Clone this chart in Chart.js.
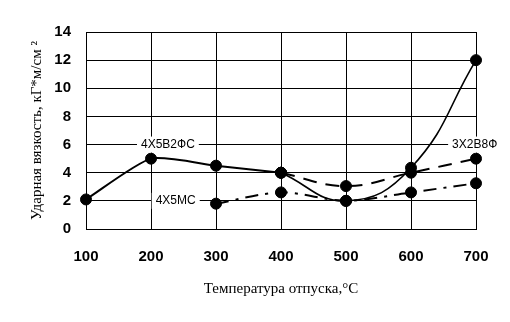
<!DOCTYPE html>
<html>
<head>
<meta charset="utf-8">
<script src="https://cdn.jsdelivr.net/npm/chart.js@4"></script>
<style>
  html, body { margin: 0; padding: 0; background: #fff; }
  #wrap { width: 510px; height: 322px; }
</style>
</head>
<body>
<div id="wrap"><canvas id="chart"></canvas></div>
<script>
// Температура отпуска, °C
// сплошная линия: левая часть (почти ломаная) и правая часть (плавная кривая)
const TEMP_SOLID_A = [100, 200, 300, 400];
const VAL_SOLID_A  = [2.1, 5.0, 4.5, 4.0];
const TEMP_SOLID_B = [400, 500, 600, 700];
const VAL_SOLID_B  = [4.0, 2.0, 4.35, 12.0];

const TEMP_DASH = [400, 500, 600, 700];
const VAL_DASH  = [4.0, 3.05, 4.0, 5.0];

const TEMP_DASHDOT = [300, 400, 500, 600, 700];
const VAL_DASHDOT  = [1.8, 2.6, 2.0, 2.6, 3.25];

// Подписи марок стали (координаты в единицах данных)
const LABEL_TEXT = ['4Х5В2ФС', '4Х5МС', '3Х2В8Ф'];
const LABEL_X    = [226, 238, 698];
const LABEL_Y    = [6, 2, 6];

const X_TICKS = [100, 200, 300, 400, 500, 600, 700];
const Y_TICKS = [0, 2, 4, 6, 8, 10, 12, 14];

function toPoints(xs, ys) {
  return xs.map((x, i) => ({ x, y: ys[i] }));
}

const labelPlugin = {
  id: 'steelLabels',
  afterDatasetsDraw(chart) {
    const { ctx, scales: { x, y } } = chart;
    ctx.save();
    ctx.font = '12px "Liberation Sans", Arial, sans-serif';
    ctx.textAlign = 'center';
    ctx.textBaseline = 'middle';
    LABEL_TEXT.forEach((t, i) => {
      const px = x.getPixelForValue(LABEL_X[i]);
      const py = y.getPixelForValue(LABEL_Y[i]);
      const w = ctx.measureText(t).width + 8;
      ctx.fillStyle = '#fff';
      ctx.fillRect(px - w / 2, py - 8, w, 16);
      ctx.fillStyle = '#000';
      ctx.fillText(t, px, py);
    });
    ctx.restore();
  },
};

const common = {
  borderColor: '#000',
  backgroundColor: '#000',
  pointBackgroundColor: '#000',
  pointBorderColor: '#000',
  pointRadius: 5.5,
  pointBorderWidth: 1,
  fill: false,
  clip: false,
};

new Chart(document.getElementById('chart'), {
  type: 'line',
  data: {
    datasets: [
      { ...common, data: toPoints(TEMP_SOLID_A, VAL_SOLID_A), borderWidth: 2, tension: 0.2 },
      { ...common, data: toPoints(TEMP_SOLID_B, VAL_SOLID_B), borderWidth: 1.6, tension: 0.45 },
      { ...common, data: toPoints(TEMP_DASH, VAL_DASH), borderWidth: 2, borderDash: [14, 9], tension: 0.4 },
      { ...common, data: toPoints(TEMP_DASHDOT, VAL_DASHDOT), borderWidth: 2, borderDash: [13, 7, 3, 7], tension: 0.3 },
    ],
  },
  options: {
    responsive: true,
    maintainAspectRatio: false,
    animation: false,
    events: [],
    layout: { padding: { top: 32, right: 34, left: 0, bottom: 0 } },
    plugins: { legend: { display: false }, tooltip: { enabled: false } },
    scales: {
      x: {
        type: 'linear',
        min: 100,
        max: 700,
        afterFit: s => { s.height = 93; },
        afterBuildTicks: s => { s.ticks = X_TICKS.map(v => ({ value: v })); },
        grid: { color: '#000', lineWidth: 1, drawTicks: false },
        border: { color: '#000', width: 1 },
        ticks: {
          padding: 19,
          color: '#000',
          font: { family: '"Liberation Sans", Arial, sans-serif', size: 15, weight: 'bold' },
        },
        title: {
          display: true,
          text: 'Температура отпуска,°С',
          color: '#000',
          font: { family: '"Liberation Serif", "Times New Roman", serif', size: 15 },
          padding: { top: 0, bottom: 24 },
        },
      },
      y: {
        min: 0,
        max: 14,
        afterFit: s => { s.width = 86; },
        afterBuildTicks: s => { s.ticks = Y_TICKS.map(v => ({ value: v })); },
        grid: { color: '#000', lineWidth: 1, drawTicks: false },
        border: { color: '#000', width: 1 },
        ticks: {
          padding: 15,
          color: '#000',
          font: { family: '"Liberation Sans", Arial, sans-serif', size: 15, weight: 'bold' },
        },
        title: {
          display: true,
          text: 'Ударная вязкость, кГ*м/см ²',
          color: '#000',
          font: { family: '"Liberation Serif", "Times New Roman", serif', size: 15 },
          padding: { top: 28, bottom: 0 },
        },
      },
    },
  },
  plugins: [labelPlugin],
});
</script>
</body>
</html>
